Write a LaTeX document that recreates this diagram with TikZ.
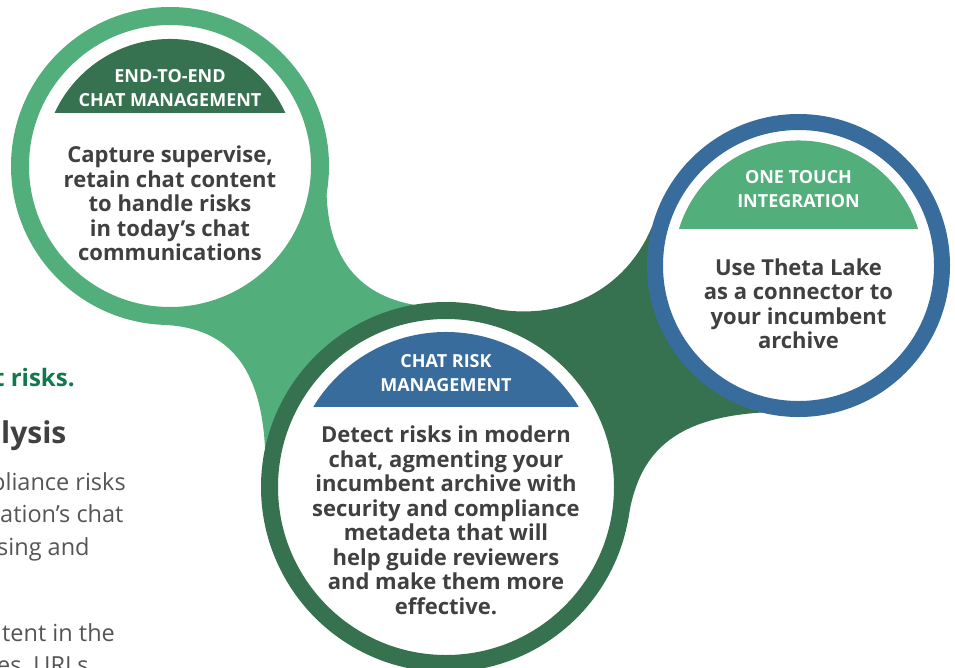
\documentclass[tikz,border=0pt]{standalone}
\usepackage{fontspec}
\setmainfont{Open Sans}
\usetikzlibrary{backgrounds}
\definecolor{leaf}{HTML}{52AE7A}
\definecolor{forest}{HTML}{367150}
\definecolor{steel}{HTML}{376C9C}
\definecolor{ink}{HTML}{404040}
\definecolor{riskgreen}{HTML}{11784C}
\definecolor{bodygray}{HTML}{555555}
\tikzset{
  ring/.style={circle,draw=#1,fill=white,inner sep=0pt},
  headtext/.style={text=white,font=\fontsize{18}{23.5}\selectfont\bfseries,align=center},
  bodytext/.style={text=ink,font=\fontsize{22}{24.5}\selectfont\bfseries,align=center},
  sidetext/.style={text=bodygray,font=\fontsize{23.5}{33}\selectfont,anchor=base west,inner sep=0pt},
}
\begin{document}
\begin{tikzpicture}[x=1pt,y=1pt]
    \useasboundingbox (0,0) rectangle (955,-667);
    \clip (0,0) rectangle (955,-667);
    % the three rings
    \node[ring=leaf,line width=18pt,minimum size=300pt] (c1) at (170,-166) {};
    \node[ring=forest,line width=17pt,minimum size=353pt] (c2) at (446,-487) {};
    \node[ring=steel,line width=16pt,minimum size=287pt] (c3) at (798.5,-265.5) {};
    % bridges behind the rings
    \begin{scope}[on background layer]
    \fill[leaf] (c1.-92) .. controls +(65,-3) and +(-4,80) .. (c2.168) -- (c2.center)
        -- (c2.100) .. controls +(-55,10) and +(2,-65) .. (c1.-10) -- (c1.center) -- cycle;
    \fill[forest] (c2.74) .. controls +(65,-11) and +(-27,-65) .. (c3.165) -- (c3.center)
        -- (c3.-104) .. controls +(-97,-6) and +(9,62) .. (c2.-11) -- (c2.center) -- cycle;
    \end{scope}
    % banners
    \fill[forest] ([shift={(24.7:127)}]c1.center) arc[start angle=24.7,end angle=155.3,radius=127] -- cycle;
    \fill[steel] ([shift={(31.1:155)}]c2.center) arc[start angle=31.1,end angle=148.9,radius=155] -- cycle;
    \fill[leaf] ([shift={(17:125)}]c3.center) arc[start angle=17,end angle=163,radius=125] -- cycle;
    \node[headtext] (h1) at ([yshift=78pt]c1.center) {END-TO-END\\CHAT MANAGEMENT};
    \node[headtext] (h2) at ([yshift=114pt]c2.center) {CHAT RISK\\MANAGEMENT};
    \node[headtext] (h3) at ([yshift=76.5pt]c3.center) {ONE TOUCH\\INTEGRATION};
    \node[bodytext] (b1) at ([yshift=-37.5pt]c1.center) {Capture supervise,\\retain chat content\\to handle risks\\in today’s chat\\communications};
    \node[bodytext] (b2) at ([yshift=-33.5pt]c2.center) {Detect risks in modern\\chat, agmenting your\\incumbent archive with\\security and compliance\\metadeta that will\\help guide reviewers\\and make them more\\effective.};
    \node[bodytext] (b3) at ([yshift=-38pt]c3.center) {Use Theta Lake\\as a connector to\\your incumbent\\archive};
    % cut-off page text on the left
    \node[font=\fontsize{24}{26}\selectfont\bfseries,text=riskgreen,anchor=base west,inner sep=0pt] (risks) at (-6,-386) {t risks.};
    \node[font=\fontsize{30}{32}\selectfont\bfseries,text=ink,anchor=base west,inner sep=0pt] (lysis) at (1,-443) {lysis};
    \node[sidetext] (s1) at (-9,-490) {pliance risks};
    \node[sidetext] (s2) at (0,-522) {ation’s chat};
    \node[sidetext] (s3) at (-3,-555) {sing and};
    \node[sidetext] (s4) at (2,-641) {tent in the};
    \node[sidetext] (s5) at (-3,-673) {es, URLs};
\end{tikzpicture}
\end{document}
